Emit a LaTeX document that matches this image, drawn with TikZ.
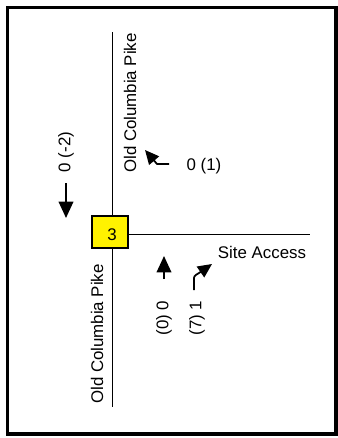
\documentclass[tikz,border=0pt]{standalone}
\usepackage{fontspec}
\newfontfamily\arialfont{Liberation Sans}
\usetikzlibrary{arrows.meta}
\tikzset{
  frame/.style={line width=2.6pt, draw=black},
  road/.style={line width=0.9pt, draw=black},
  signal/.style={draw=black, line width=1.1pt, fill=yellow, minimum width=1.08cm, minimum height=0.96cm, inner sep=0pt},
  lbl/.style={font=\arialfont\fontsize{14.4}{17}\selectfont, inner sep=0pt},
  vlbl/.style={lbl, rotate=90},
  thru/.style={line width=1.5pt, -{Triangle[length=14pt, width=12.5pt]}},
  turn/.style={line width=1.5pt, line join=round, -{Triangle[length=12pt, width=11pt]}},
}
\begin{document}
\begin{tikzpicture}[x=0.03cm, y=-0.03cm]
\useasboundingbox (0,0) rectangle (338,438);
\draw[frame] (7.5,7.5) rectangle (336,434);
% roads
\coordinate (ocpN) at (112.7,32);
\coordinate (ocpS) at (112.7,407);
\coordinate (siteE) at (310,234.5);
\draw[road] (ocpN) -- (ocpS);
\node[signal] (sig) at (110,232) {};
\draw[road] (sig.east |- siteE) -- (siteE);
\node[lbl] (signo) at (112,235) {3};
% road names
\node[vlbl] (ocpNlbl) at (130,103) {Old Columbia Pike};
\node[vlbl] (ocpSlbl) at (97,334) {Old Columbia Pike};
\node[lbl] (sitelbl) at (262,252) {Site Access};
% southbound
\node[vlbl] (sbt) at (66,152) {0 (-2)};
\coordinate (sbA) at (66,183);
\coordinate (sbB) at (66,218);
\draw[thru] (sbA) -- (sbB);
% westbound
\node[lbl] (wbl) at (204,166) {0 (1)};
\coordinate (wbA) at (169,164);
\coordinate (wbB) at (157,164);
\coordinate (wbC) at (145,150);
\draw[turn] (wbA) -- (wbB) -- (wbC);
% northbound
\node[vlbl] (nbt) at (164,318) {(0) 0};
\coordinate (nbA) at (164,279);
\coordinate (nbB) at (164,256);
\draw[thru] (nbA) -- (nbB);
\node[vlbl] (nbr) at (197,318) {(7) 1};
\coordinate (nrA) at (194,290);
\coordinate (nrB) at (194,280);
\coordinate (nrC) at (199,273);
\coordinate (nrD) at (212,264);
\draw[turn] (nrA) -- (nrB) .. controls (194,276) .. (nrC) -- (nrD);
\end{tikzpicture}
\end{document}
